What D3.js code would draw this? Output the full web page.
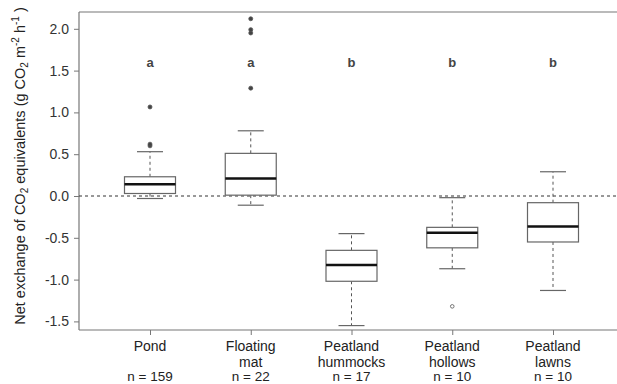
<!DOCTYPE html>
<html>
<head>
<meta charset="utf-8">
<script src="https://cdn.jsdelivr.net/npm/d3@7"></script>
<style>
  body { margin: 0; background: #fff; }
  text { font-family: "Liberation Sans", Arial, sans-serif; }
</style>
</head>
<body>
<div id="chart"></div>
<script>
const WIDTH = 617, HEIGHT = 384;

// data
const groups = ["Pond", "Floating\nmat", "Peatland\nhummocks", "Peatland\nhollows", "Peatland\nlawns"];
const counts = ["n = 159", "n = 22", "n = 17", "n = 10", "n = 10"];
const letters = ["a", "a", "b", "b", "b"];
const whiskerLow = [-0.03, -0.11, -1.55, -0.87, -1.13];
const q1 = [0.03, 0.01, -1.02, -0.62, -0.55];
const medians = [0.14, 0.21, -0.825, -0.44, -0.365];
const q3 = [0.23, 0.51, -0.65, -0.375, -0.08];
const whiskerHigh = [0.53, 0.78, -0.45, -0.02, 0.29];
const outliers = [
  [0.60, 0.62, 1.065],
  [1.29, 1.95, 1.99, 2.12],
  [],
  [-1.32],
  []
];
const yTicks = [-1.5, -1.0, -0.5, 0.0, 0.5, 1.0, 1.5, 2.0];

let svg = d3.select("#chart")
    .append("svg")
    .attr("width", WIDTH)
    .attr("height", HEIGHT);

let y = d3.scaleLinear().domain([0, 2]).range([196, 28.8]);
let x = d3.scalePoint().domain(d3.range(groups.length)).range([150, 553]);

const plotLeft = 79, plotTop = 12, plotBottom = 330;
const axisColor = "#777";

// frame: top line + left axis + bottom axis
svg.append("line").attr("x1", plotLeft).attr("x2", WIDTH).attr("y1", plotTop).attr("y2", plotTop)
    .style("stroke", axisColor).style("stroke-width", 1.2);

let yAxis = svg.append("g")
    .attr("transform", `translate(${plotLeft},0)`)
    .call(d3.axisLeft(y).tickValues(yTicks).tickFormat(d3.format(".1f")).tickSize(5).tickPadding(5));
yAxis.select(".domain").attr("d", `M0,${plotTop}V${plotBottom}`).style("stroke", axisColor).style("stroke-width", 1.2);
yAxis.selectAll(".tick line").style("stroke", axisColor);
yAxis.selectAll(".tick text").style("font-size", "14px").style("fill", "#333")
    .text(d => d < 0 ? "-" + Math.abs(d).toFixed(1) : d.toFixed(1));

let xAxis = svg.append("g")
    .attr("transform", `translate(0,${plotBottom})`)
    .call(d3.axisBottom(x).tickSize(5).tickFormat(""));
xAxis.select(".domain").attr("d", `M${plotLeft},0H${WIDTH}`).style("stroke", axisColor).style("stroke-width", 1.2);
xAxis.selectAll(".tick line").style("stroke", axisColor);

// group labels
groups.forEach(function(g, i) {
    let lines = g.split("\n");
    let t = svg.append("text")
        .attr("x", x(i))
        .attr("y", 351)
        .style("text-anchor", "middle")
        .style("font-size", "14px")
        .style("fill", "#222");
    lines.forEach(function(l, j) {
        t.append("tspan").attr("x", x(i)).attr("dy", j == 0 ? 0 : 15.5).text(l);
    });
    svg.append("text")
        .attr("x", x(i))
        .attr("y", 381)
        .style("text-anchor", "middle")
        .style("font-size", "13.5px")
        .style("fill", "#222")
        .text(counts[i]);
});

// zero reference line
svg.append("line")
    .attr("x1", plotLeft).attr("x2", WIDTH)
    .attr("y1", y(0)).attr("y2", y(0))
    .style("stroke", "#333").style("stroke-width", 1)
    .style("stroke-dasharray", "3,3");

// boxes
const boxW = 51, capW = 26;
groups.forEach(function(g, i) {
    let cx = x(i);
    let gg = svg.append("g");
    // whiskers
    gg.append("line").attr("x1", cx).attr("x2", cx).attr("y1", y(q3[i])).attr("y2", y(whiskerHigh[i]))
        .style("stroke", "#555").style("stroke-dasharray", "3,3");
    gg.append("line").attr("x1", cx).attr("x2", cx).attr("y1", y(q1[i])).attr("y2", y(whiskerLow[i]))
        .style("stroke", "#555").style("stroke-dasharray", "3,3");
    [whiskerHigh[i], whiskerLow[i]].forEach(function(v) {
        gg.append("line").attr("x1", cx - capW / 2).attr("x2", cx + capW / 2).attr("y1", y(v)).attr("y2", y(v))
            .style("stroke", "#666").style("stroke-width", 1.2);
    });
    gg.append("rect")
        .attr("x", cx - boxW / 2)
        .attr("y", y(q3[i]))
        .attr("width", boxW)
        .attr("height", y(q1[i]) - y(q3[i]))
        .style("fill", "#fff")
        .style("stroke", "#666")
        .style("stroke-width", 1.2);
    gg.append("line").attr("x1", cx - boxW / 2).attr("x2", cx + boxW / 2).attr("y1", y(medians[i])).attr("y2", y(medians[i]))
        .style("stroke", "#111").style("stroke-width", 2.5);
    gg.selectAll("circle")
        .data(outliers[i])
        .enter()
        .append("circle")
        .attr("cx", cx)
        .attr("cy", d => y(d))
        .attr("r", i == 3 ? 1.8 : 2)
        .style("fill", i == 3 ? "#fff" : "#444")
        .style("stroke", "#555")
        .style("stroke-width", 0.8);
    svg.append("text")
        .attr("x", cx)
        .attr("y", 67)
        .style("text-anchor", "middle")
        .style("font-size", "13px")
        .style("font-weight", "bold")
        .style("fill", "#444")
        .text(letters[i]);
});

// y axis title
let title = svg.append("text")
    .attr("transform", `translate(25,166) rotate(-90)`)
    .style("text-anchor", "middle")
    .style("font-size", "14.5px")
    .style("fill", "#222");
title.append("tspan").text("Net exchange of CO");
title.append("tspan").attr("dy", 3).style("font-size", "10px").text("2");
title.append("tspan").attr("dy", -3).text(" equivalents (g CO");
title.append("tspan").attr("dy", 3).style("font-size", "10px").text("2");
title.append("tspan").attr("dy", -3).text(" m");
title.append("tspan").attr("dy", -6).style("font-size", "10px").text("-2");
title.append("tspan").attr("dy", 6).text(" h");
title.append("tspan").attr("dy", -6).style("font-size", "10px").text("-1");
title.append("tspan").attr("dy", 6).text(" )");
</script>
</body>
</html>
